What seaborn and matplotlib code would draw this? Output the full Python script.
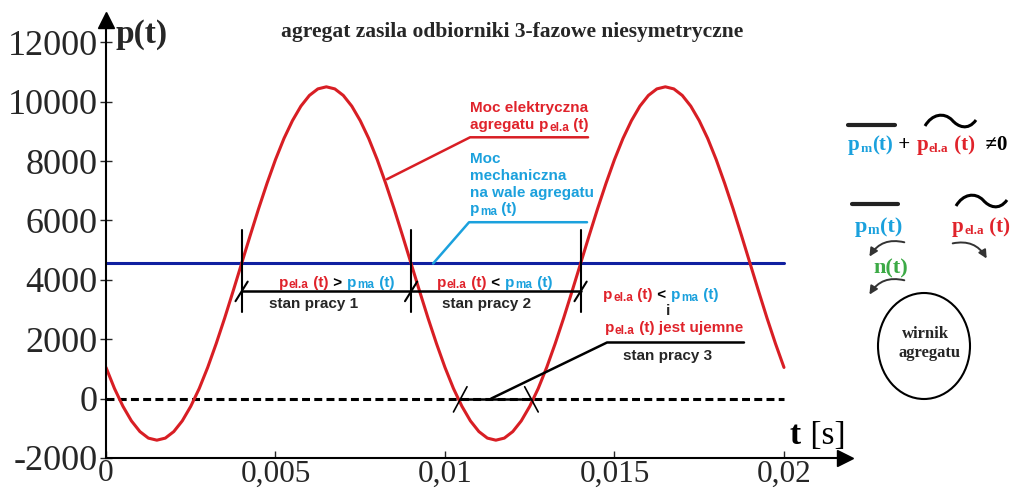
"""Moc agregatu p(t) przy odbiornikach 3-fazowych niesymetrycznych."""

import numpy as np
import pandas as pd
import matplotlib
matplotlib.use("Agg")
import matplotlib.pyplot as plt
import matplotlib.transforms as mtransforms
from matplotlib.patches import Ellipse, FancyArrowPatch, PathPatch
from matplotlib.path import Path
import seaborn as sns

# --- data ------------------------------------------------------------------
t_ms = [
    0.0, 0.25, 0.5, 0.75, 1.0, 1.25, 1.5, 1.75, 2.0, 2.25,
    2.5, 2.75, 3.0, 3.25, 3.5, 3.75, 4.0, 4.25, 4.5, 4.75,
    5.0, 5.25, 5.5, 5.75, 6.0, 6.25, 6.5, 6.75, 7.0, 7.25,
    7.5, 7.75, 8.0, 8.25, 8.5, 8.75, 9.0, 9.25, 9.5, 9.75,
    10.0, 10.25, 10.5, 10.75, 11.0, 11.25, 11.5, 11.75, 12.0, 12.25,
    12.5, 12.75, 13.0, 13.25, 13.5, 13.75, 14.0, 14.25, 14.5, 14.75,
    15.0, 15.25, 15.5, 15.75, 16.0, 16.25, 16.5, 16.75, 17.0, 17.25,
    17.5, 17.75, 18.0, 18.25, 18.5, 18.75, 19.0, 19.25, 19.5, 19.75,
    20.0,
]
p_el = [
    1050, 340, -260, -750, -1110, -1330, -1400, -1330, -1110, -750,
    -260, 340, 1050, 1850, 2710, 3620, 4550, 5480, 6390, 7250,
    8050, 8760, 9360, 9850, 10210, 10430, 10500, 10430, 10210, 9850,
    9360, 8760, 8050, 7250, 6390, 5480, 4550, 3620, 2710, 1850,
    1050, 340, -260, -750, -1110, -1330, -1400, -1330, -1110, -750,
    -260, 340, 1050, 1850, 2710, 3620, 4550, 5480, 6390, 7250,
    8050, 8760, 9360, 9850, 10210, 10430, 10500, 10430, 10210, 9850,
    9360, 8760, 8050, 7250, 6390, 5480, 4550, 3620, 2710, 1850,
    1050,
]
t_span = [0.0, 0.02]
p_mech = [4550, 4550]
p_zero = [0, 0]

# moments where p_el crosses p_mech and zero
t_states = [0.004, 0.009, 0.014]
t_negative = [0.01045, 0.01255]

x_ticks = [0.0, 0.005, 0.01, 0.015, 0.02]
x_labels = ["0", "0,005", "0,01", "0,015", "0,02"]
y_ticks = [-2000, 0, 2000, 4000, 6000, 8000, 10000, 12000]

RED = "#d81e24"
TXT_RED = "#e0232b"
SKY = "#1ba1dd"
NAVY = "#1020a0"
GREEN = "#3caa46"
SERIF = "Liberation Serif"
SANS = "Liberation Sans"

W, H = 1014, 496

sns.set_style("ticks")
plt.rcParams["font.family"] = [SERIF, "DejaVu Serif"]

fig = plt.figure(figsize=(W / 100, H / 100), dpi=100)
ax = fig.add_axes([106 / W, 1 - 458 / H, (845 - 106) / W, (458 - 20) / H])
PX = mtransforms.Affine2D().scale(1 / W, -1 / H).translate(0, 1) + fig.transFigure

df = pd.DataFrame({"t": np.array(t_ms) / 1000.0, "p": p_el})
sns.lineplot(x=t_span, y=p_zero, ax=ax, color="black", lw=2.2,
             linestyle=(0, (2.6, 1.4)), errorbar=None)
sns.lineplot(x=t_span, y=p_mech, ax=ax, color=NAVY, lw=2.2, errorbar=None)
sns.lineplot(data=df, x="t", y="p", ax=ax, color=RED, lw=2.2, errorbar=None)

ax.set_xlim(0, 0.0218)
ax.set_ylim(-2000, 12750)
ax.set_xticks(x_ticks, x_labels)
ax.set_yticks(y_ticks, [str(v) for v in y_ticks])
ax.set_xlabel("")
ax.set_ylabel("")
for side in ("top", "right"):
    ax.spines[side].set_visible(False)
for side in ("left", "bottom"):
    ax.spines[side].set_linewidth(1.5)
    ax.spines[side].set_color("black")
ax.tick_params(axis="x", direction="in", length=5, width=1, pad=1, labelsize=22.5)
ax.tick_params(axis="y", direction="inout", length=8, width=1, pad=2, labelsize=26)
for lab in ax.get_xticklabels() + ax.get_yticklabels():
    lab.set_family(SERIF)

ax.plot([1], [0], marker=">", ms=12, color="black", transform=ax.transAxes, clip_on=False)
ax.plot([0], [1], marker="^", ms=12, color="black", transform=ax.transAxes, clip_on=False)


def rich(x, y, parts, transform, ha="left"):
    """Draw coloured text pieces side by side; dy shifts a piece in pixels."""
    r = fig.canvas.get_renderer()
    items = []
    for s, color, size, family, weight, dy in parts:
        tx = fig.text(x, y, s, color=color, fontsize=size, family=family,
                      weight=weight, va="baseline", transform=transform)
        items.append((tx, dy, tx.get_window_extent(r).width + 0.5))
    off = -sum(w for _, _, w in items) / 2 if ha == "center" else 0
    for tx, dy, w in items:
        tx.set_transform(mtransforms.offset_copy(transform, fig=fig, x=off, y=dy, units="dots"))
        off += w


def p_el_parts(size=11, sub=8.5, family=SANS, tail=" (t)"):
    return [("p", TXT_RED, size, family, "bold", 0),
            ("el.a", TXT_RED, sub, family, "bold", -1.5),
            (tail, TXT_RED, size, family, "bold", 0)]


def p_ma_parts(size=11, sub=8.5, family=SANS, name="ma", tail=" (t)"):
    return [("p", SKY, size, family, "bold", 0),
            (name, SKY, sub, family, "bold", -1.5),
            (tail, SKY, size, family, "bold", 0)]


# --- titles / axis names -----------------------------------------------------
fig.text(512, 37, "agregat zasila odbiorniki 3-fazowe niesymetryczne", transform=PX,
         ha="center", va="baseline", fontsize=15.5, weight="bold", family=SERIF)
fig.text(115, 43, "p(t)", transform=PX, ha="left", va="baseline",
         fontsize=24, weight="bold", family=SERIF)
rich(790, 444, [("t", "black", 24, SERIF, "bold", 0),
                (" [s]", "black", 24, SERIF, "normal", 0)], PX)

# --- working states 1 and 2 ----------------------------------------------------
for ts in t_states:
    ax.plot([ts, ts], [2900, 5670], color="black", lw=1.5)
    ax.plot([ts - 0.00018, ts + 0.00018], [3280, 3940], color="black", lw=1.5)
ax.plot([t_states[0], t_states[-1]], [3610, 3610], color="black", lw=1.8)

rich(0.00681, 3760, p_el_parts() + [(" > ", "black", 11, SANS, "bold", 0)] + p_ma_parts(),
     ax.transData, ha="center")
rich(0.01147, 3760, p_el_parts() + [(" < ", "black", 11, SANS, "bold", 0)] + p_ma_parts(),
     ax.transData, ha="center")
ax.text(0.00611, 3200, "stan pracy 1", ha="center", va="center", fontsize=11,
        weight="bold", family=SANS)
ax.text(0.01124, 3200, "stan pracy 2", ha="center", va="center", fontsize=11,
        weight="bold", family=SANS)

# --- working state 3 ----------------------------------------------------------
ax.plot(t_negative, [0, 0], color="black", lw=1.8)
ax.plot([t_negative[0] - 0.0002, t_negative[0] + 0.0002], [-450, 400], color="black", lw=1.2)
ax.plot([t_negative[1] - 0.0002, t_negative[1] + 0.0002], [400, -450], color="black", lw=1.2)
ax.plot([0.01136, 0.01478, 0.01882], [0, 1890, 1890], color="black", lw=1.8)
rich(0.01637, 3340, p_el_parts() + [(" < ", "black", 11, SANS, "bold", 0)] + p_ma_parts(),
     ax.transData, ha="center")
ax.text(0.01658, 2950, "i", ha="center", va="center", fontsize=11, weight="bold", family=SANS)
rich(0.01677, 2230, p_el_parts(tail=" (t) jest ujemne"), ax.transData, ha="center")
ax.text(0.01658, 1420, "stan pracy 3", ha="center", va="center", fontsize=11,
        weight="bold", family=SANS)

# --- callouts for the two powers ------------------------------------------------
ax.plot([0.00829, 0.01074, 0.01422], [7390, 8800, 8800], color=RED, lw=1.8)
fig.text(0.01074, 9660, "Moc elektryczna", transform=ax.transData, color=TXT_RED,
         fontsize=11, weight="bold", family=SANS, va="baseline")
rich(0.01074, 9070, [("agregatu ", TXT_RED, 11, SANS, "bold", 0)] + p_el_parts(), ax.transData)

ax.plot([0.00965, 0.01071, 0.01419], [4550, 5940, 5940], color=SKY, lw=1.8)
for txt, yv in [("Moc", 7920), ("mechaniczna", 7350), ("na wale agregatu", 6790)]:
    fig.text(0.01074, yv, txt, transform=ax.transData, color=SKY, fontsize=11,
             weight="bold", family=SANS, va="baseline")
rich(0.01074, 6250, p_ma_parts(), ax.transData)

# --- right-hand sketch: power balance on the rotor ------------------------------------
def tilde(x0, y0):
    verts = [(x0, y0 + 6), (x0 + 7, y0 - 6), (x0 + 19, y0 - 8), (x0 + 27, y0),
             (x0 + 33, y0 + 7), (x0 + 43, y0 + 11), (x0 + 51, y0)]
    codes = [Path.MOVETO] + [Path.CURVE4] * 6
    fig.add_artist(PathPatch(Path(verts, codes), transform=PX, fill=False, lw=2.2,
                             edgecolor="black"))


def bar(x0, x1, y0):
    fig.add_artist(plt.Line2D([x0, x1], [y0, y0], transform=PX, color="#222222", lw=3))


bar(848, 895, 125)
tilde(925, 120)
rich(848, 150, p_ma_parts(15, 9.5, SERIF, "m", "(t)")
     + [(" + ", "black", 15, SERIF, "bold", 0)]
     + p_el_parts(15, 9.5, SERIF) + [("  \u22600", "black", 15, SERIF, "bold", 0)], PX)

bar(852, 898, 204)
tilde(956, 200)
rich(855, 232, p_ma_parts(16, 10, SERIF, "m", "(t)"), PX)
rich(952, 232, p_el_parts(15, 9.5, SERIF), PX)
rich(873, 273, [("n(t)", GREEN, 16, SERIF, "bold", 0)], PX)

for a, b, rad in [((907, 243), (868, 259), 0.4), ((950, 244), (988, 261), -0.4),
                  ((907, 281), (868, 297), 0.4)]:
    fig.add_artist(FancyArrowPatch(a, b, transform=PX, arrowstyle="-|>", mutation_scale=12,
                                   connectionstyle=f"arc3,rad={rad}", color="#333333", lw=1.4))

fig.add_artist(Ellipse((924, 346), 92, 106, transform=PX, fill=False, lw=1.5,
                       edgecolor="black"))
fig.text(926, 338, "wirnik", transform=PX, ha="center", va="baseline", fontsize=12,
         weight="bold", family=SERIF)
fig.text(930, 357, "agregatu", transform=PX, ha="center", va="baseline", fontsize=12,
         weight="bold", family=SERIF)

fig.savefig("out.png", dpi=100)
